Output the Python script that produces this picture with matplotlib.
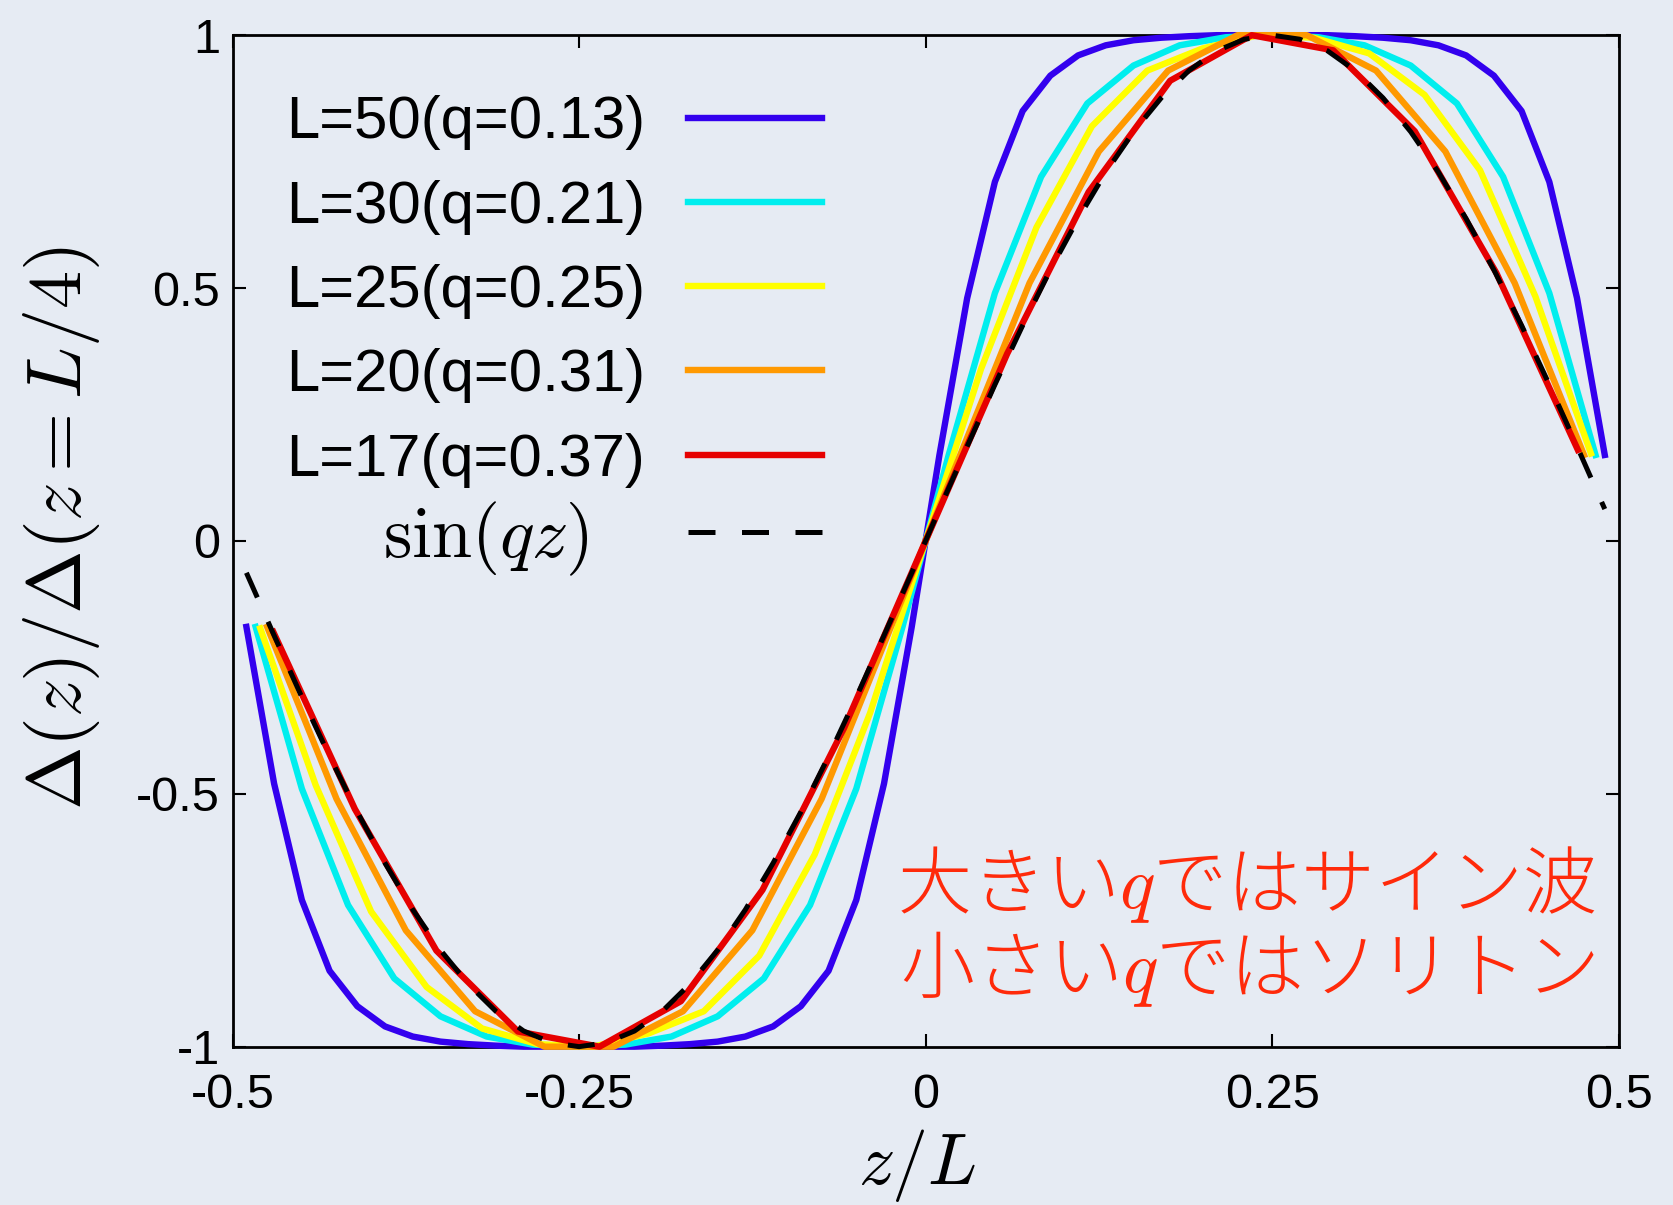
#!/usr/bin/env python3
from __future__ import annotations

import matplotlib

matplotlib.use("Agg")
import matplotlib.pyplot as plt
import numpy as np


OUT_PATH = "out.png"

# chain lengths and legend entries
SIZES = [50, 30, 25, 20, 17]
LABELS = ["L=50(q=0.13)", "L=30(q=0.21)", "L=25(q=0.25)", "L=20(q=0.31)", "L=17(q=0.37)"]
COLORS = ["#3300ee", "#00eeee", "#ffff00", "#ff9900", "#e60000"]

# Delta(z)/Delta(z=L/4) on each site (left to right)
GAP_L50 = [
    -0.17, -0.48, -0.71, -0.85, -0.92, -0.96, -0.98, -0.99, -0.995, -0.998,
    -1.0, -1.0, -1.0, -1.0, -1.0, -0.998, -0.995, -0.99, -0.98, -0.96,
    -0.92, -0.85, -0.71, -0.48, -0.17,
    0.17, 0.48, 0.71, 0.85, 0.92, 0.96, 0.98, 0.99, 0.995, 0.998,
    1.0, 1.0, 1.0, 1.0, 1.0, 0.998, 0.995, 0.99, 0.98, 0.96,
    0.92, 0.85, 0.71, 0.48, 0.17,
]
GAP_L30 = [
    -0.17, -0.49, -0.72, -0.865, -0.94, -0.98, -0.996, -1.0, -0.996, -0.98,
    -0.94, -0.865, -0.72, -0.49, -0.17,
    0.17, 0.49, 0.72, 0.865, 0.94, 0.98, 0.996, 1.0, 0.996, 0.98,
    0.94, 0.865, 0.72, 0.49, 0.17,
]
GAP_L25 = [
    -0.173, -0.483, -0.733, -0.882, -0.964, -0.995, -1.0, -0.974, -0.93, -0.82,
    -0.62, -0.34, 0.0, 0.34, 0.62, 0.82, 0.93, 0.974, 1.0, 0.995,
    0.964, 0.882, 0.733, 0.483, 0.173,
]
GAP_L20 = [
    -0.17, -0.51, -0.77, -0.93, -1.0, -1.0, -0.93, -0.77, -0.51, -0.17,
    0.17, 0.51, 0.77, 0.93, 1.0, 1.0, 0.93, 0.77, 0.51, 0.17,
]
GAP_L17 = [
    -0.18, -0.53, -0.81, -0.97, -1.0, -0.91, -0.69, -0.37, 0.0,
    0.37, 0.69, 0.91, 1.0, 0.97, 0.81, 0.53, 0.18,
]
GAPS = [GAP_L50, GAP_L30, GAP_L25, GAP_L20, GAP_L17]

# dashed reference curve sin(qz), sampled on the L=50 sites
SIN_VALUES = [
    -0.063, -0.187, -0.309, -0.426, -0.536, -0.637, -0.729, -0.809, -0.876, -0.930,
    -0.969, -0.992, -1.0, -0.992, -0.969, -0.930, -0.876, -0.809, -0.729, -0.637,
    -0.536, -0.426, -0.309, -0.187, -0.063,
    0.063, 0.187, 0.309, 0.426, 0.536, 0.637, 0.729, 0.809, 0.876, 0.930,
    0.969, 0.992, 1.0, 0.992, 0.969, 0.930, 0.876, 0.809, 0.729, 0.637,
    0.536, 0.426, 0.309, 0.187, 0.063,
]
SIN_LABEL = r"$\sin(qz)$"

XTICKS = [-0.5, -0.25, 0, 0.25, 0.5]
XTICKLABELS = ["-0.5", "-0.25", "0", "0.25", "0.5"]
YTICKS = [-1, -0.5, 0, 0.5, 1]
YTICKLABELS = ["-1", "-0.5", "0", "0.5", "1"]

NOTE_LINES = ["大きい$q$ではサイン波", "小さい$q$ではソリトン"]
NOTE_COLOR = "#ff2a0a"
BG = "#e6ebf3"

W, H = 1673, 1205


def site_positions(size: int) -> np.ndarray:
    # lattice sites centred on z = 0, in units of L
    return (np.arange(size) - (size - 1) / 2) / size


def main() -> None:
    plt.rcParams["font.family"] = ["Liberation Sans", "DejaVu Sans"]
    plt.rcParams["mathtext.fontset"] = "cm"
    plt.rcParams["axes.unicode_minus"] = False

    fig = plt.figure(figsize=(W / 100, H / 100), dpi=100)
    fig.patch.set_facecolor(BG)
    ax = fig.add_axes([0.139, 0.1314, 0.8285, 0.8394])
    ax.set_facecolor(BG)

    curves = []
    for size, gap, color, label in zip(SIZES, GAPS, COLORS, LABELS):
        (line,) = ax.plot(site_positions(size), gap, color=color, linewidth=4.6,
                          label=label, clip_on=False, zorder=3)
        curves.append(line)

    (sin_line,) = ax.plot(site_positions(50), SIN_VALUES, color="black", linewidth=3.6,
                          linestyle=(0, (5.4, 5.3)), label=SIN_LABEL, clip_on=False, zorder=4)

    ax.set_xlim(-0.5, 0.5)
    ax.set_ylim(-1, 1)
    ax.set_xticks(XTICKS)
    ax.set_xticklabels(XTICKLABELS)
    ax.set_yticks(YTICKS)
    ax.set_yticklabels(YTICKLABELS)
    ax.tick_params(axis="both", direction="in", top=True, right=True,
                   length=9.4, width=1.5, labelsize=35)
    ax.tick_params(axis="x", pad=19)
    ax.tick_params(axis="y", pad=9)
    for spine in ax.spines.values():
        spine.set_linewidth(2.0)

    ax.set_xlabel(r"$z/L$", fontsize=52, va="top")
    ax.xaxis.set_label_coords(0.494, -0.079)
    ax.set_ylabel(r"$\Delta(z)/\Delta(z=L/4)$", fontsize=55)
    ax.yaxis.set_label_coords(-0.094, 0.513)

    legend = ax.legend(
        handles=curves,
        loc="upper right",
        bbox_to_anchor=(822 / W, 1 - 95.5 / H),
        bbox_transform=fig.transFigure,
        frameon=False,
        markerfirst=False,
        fontsize=43,
        handlelength=2.24,
        handletextpad=0.72,
        labelspacing=0.49,
        borderaxespad=0,
        borderpad=0,
    )
    ax.add_artist(legend)
    ax.legend(
        handles=[sin_line],
        loc="center right",
        bbox_to_anchor=(822 / W, 1 - 539 / H),
        bbox_transform=fig.transFigure,
        frameon=False,
        markerfirst=False,
        fontsize=52,
        handlelength=1.86,
        handletextpad=1.37,
        borderaxespad=0,
        borderpad=0,
    )

    for text, y in zip(NOTE_LINES, [-0.682, -0.85]):
        ax.text(0.483, y, text, color=NOTE_COLOR, fontsize=53.3, ha="right", va="center",
                fontweight="light", family=["Noto Sans CJK JP", "DejaVu Sans"])

    fig.savefig(OUT_PATH, dpi=100, facecolor=BG)
    plt.close(fig)


if __name__ == "__main__":
    main()
